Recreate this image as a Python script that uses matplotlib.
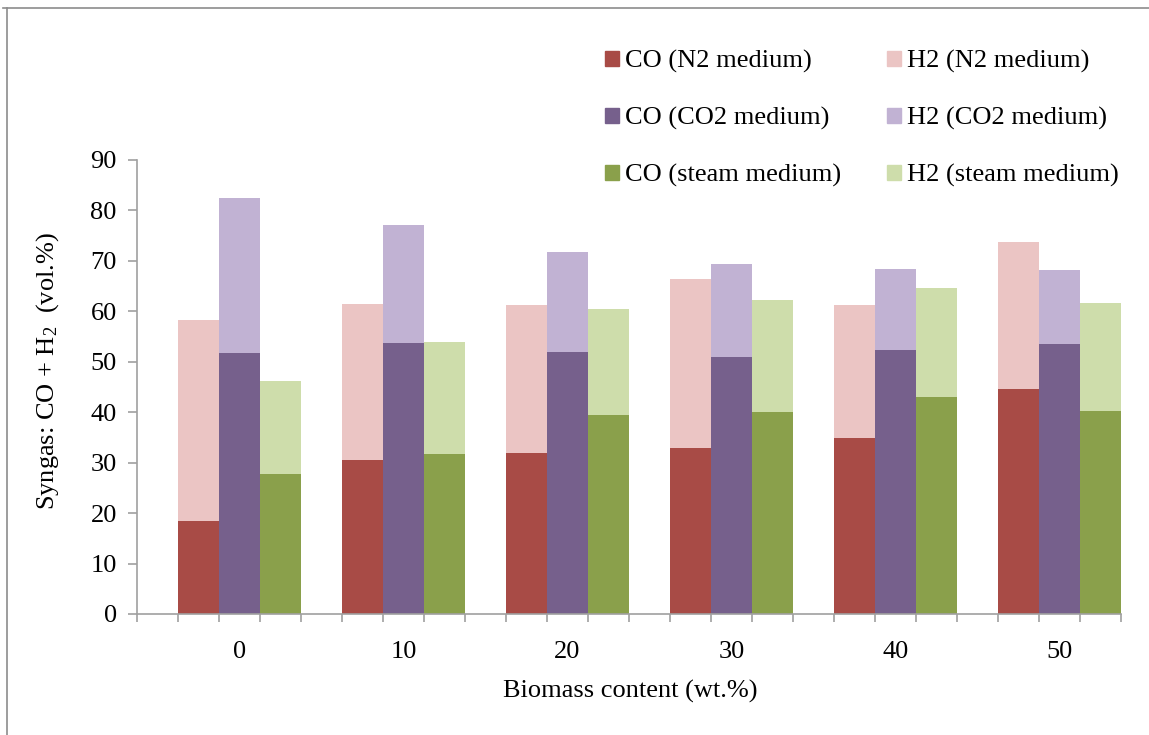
import matplotlib
matplotlib.use("Agg")
import matplotlib.pyplot as plt
from matplotlib.patches import Patch
from matplotlib.lines import Line2D
import numpy as np

# Biomass content of the blend (wt.%)
biomass = ["0", "10", "20", "30", "40", "50"]

# Syngas composition (vol.%) for each gasifying medium
co_n2 = [18.4, 30.6, 31.9, 32.9, 34.8, 44.6]
h2_n2 = [39.8, 30.8, 29.3, 33.5, 26.5, 29.2]
co_co2 = [51.7, 53.7, 52.0, 51.0, 52.3, 53.5]
h2_co2 = [30.7, 23.4, 19.8, 18.3, 16.0, 14.6]
co_steam = [27.8, 31.7, 39.4, 40.1, 43.0, 40.2]
h2_steam = [18.3, 22.3, 21.1, 22.2, 21.6, 21.5]

series = [
    ("N2 medium", co_n2, h2_n2, "#A84B46", "#EBC5C4"),
    ("CO2 medium", co_co2, h2_co2, "#76608C", "#C1B2D3"),
    ("steam medium", co_steam, h2_steam, "#8AA04B", "#CEDDAB"),
]

plt.rcParams["font.family"] = ["Liberation Serif", "DejaVu Serif"]
plt.rcParams["mathtext.fontset"] = "custom"
plt.rcParams["mathtext.rm"] = "Liberation Serif"
plt.rcParams["mathtext.default"] = "regular"

FS = 19
W, H = 1149, 735
fig = plt.figure(figsize=(W / 100, H / 100), dpi=100)
ax = fig.add_axes([137 / W, 1 - 614 / H, (1121 - 137) / W, (614 - 160) / H])

n = len(biomass)
slot = 4  # one empty slot followed by three bars per group
group_start = np.arange(n) * slot
for k, (name, co, h2, c_co, c_h2) in enumerate(series):
    x = group_start + 1.5 + k
    ax.bar(x, co, width=1.0, color=c_co, linewidth=0)
    ax.bar(x, h2, width=1.0, bottom=co, color=c_h2, linewidth=0)

ax.set_xlim(0, n * slot)
ax.set_ylim(0, 90)
ax.set_yticks(np.arange(0, 91, 10))

ax.set_xticks(group_start + 2.5)
ax.set_xticklabels(biomass)
ax.set_xticks(np.arange(0, n * slot + 1), minor=True)

axis_grey = "#A0A0A0"
for side in ("top", "right"):
    ax.spines[side].set_visible(False)
for side in ("left", "bottom"):
    ax.spines[side].set_color(axis_grey)
    ax.spines[side].set_linewidth(1.2)

ax.tick_params(axis="x", which="major", length=0, pad=19.5, labelsize=FS)
ax.tick_params(axis="x", which="minor", length=6, width=1.2, color=axis_grey, direction="out")
ax.tick_params(axis="y", which="major", length=6.5, width=1.2, color=axis_grey,
               direction="out", pad=8, labelsize=FS)

fig.text(48 / W, 1 - 371 / H, "Syngas: CO + H$_2$  (vol.%)", rotation=90,
         ha="center", va="center", fontsize=FS)
fig.text(630 / W, 1 - 698 / H, "Biomass content (wt.%)", ha="center",
         va="baseline", fontsize=FS)

# Legend: CO entries in the first column, H2 entries in the second
handles = [Patch(color=s[3], label=f"CO ({s[0]})") for s in series] + \
          [Patch(color=s[4], label=f"H2 ({s[0]})") for s in series]
fig.legend(handles=handles, ncol=2, frameon=False, fontsize=FS,
           loc="upper left", bbox_to_anchor=(605 / W, 1 - 50 / H),
           borderpad=0, borderaxespad=0, handlelength=0.52, handleheight=0.52,
           handletextpad=0.23, columnspacing=1.74, labelspacing=1.29)

# Outer frame lines
frame_c = "#8C8C8C"
fig.add_artist(Line2D([3 / W, 1], [1 - 8 / H, 1 - 8 / H], transform=fig.transFigure,
                      color=frame_c, linewidth=1.2))
fig.add_artist(Line2D([7 / W, 7 / W], [0, 1 - 8 / H], transform=fig.transFigure,
                      color=frame_c, linewidth=1.2))

fig.savefig("out.png", dpi=100, facecolor="white")
